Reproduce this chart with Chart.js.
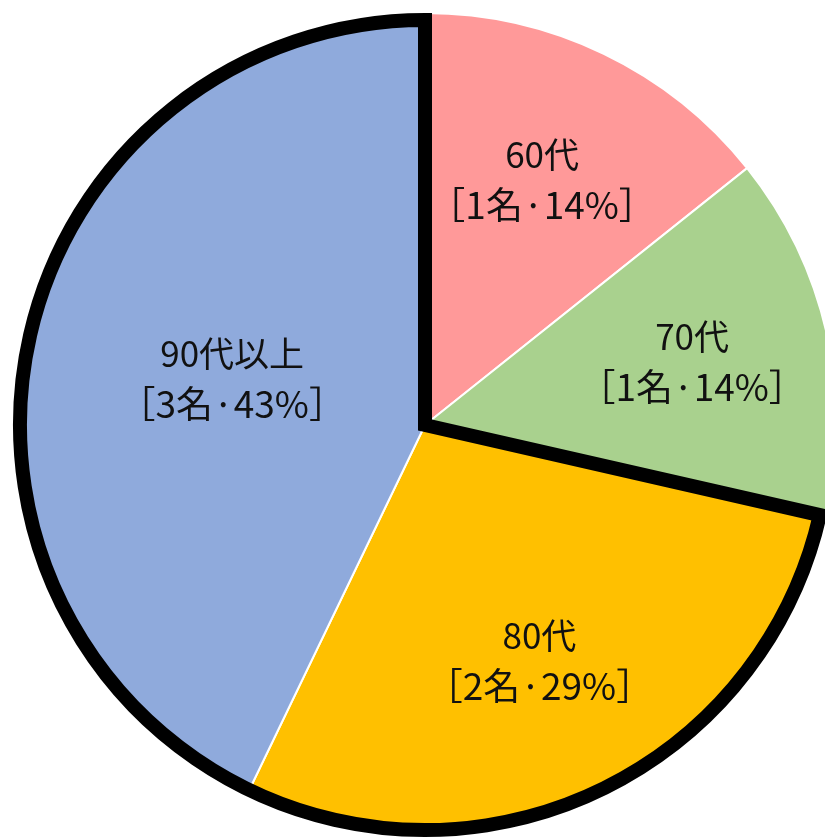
<!DOCTYPE html>
<html>
<head>
<meta charset="utf-8">
<script src="https://cdn.jsdelivr.net/npm/chart.js@4.4.1/dist/chart.umd.min.js"></script>
<style>
  html, body { margin: 0; padding: 0; background: #fff; overflow: hidden; width: 825px; height: 837px; }
  #ageChart { position: absolute; left: 12px; top: 12px; }
</style>
</head>
<body>
<canvas id="ageChart" width="826" height="826"></canvas>
<script>
// data
var categories = ['60代', '70代', '80代', '90代以上'];
var counts = [1, 1, 2, 3];
var percents = [14, 14, 29, 43];
var sliceColors = ['#FF9999', '#A9D18E', '#FFC000', '#8FAADC'];

// draws the thick black outline round the 80代 + 90代 part of the pie
var outlinePlugin = {
    id: 'outline',
    afterDatasetsDraw: function(chart) {
        var arcs = chart.getDatasetMeta(0).data;
        var first = arcs[2], last = arcs[3];
        var ctx = chart.ctx;
        var w = 14;
        ctx.save();
        ctx.beginPath();
        ctx.moveTo(first.x, first.y);
        ctx.arc(first.x, first.y, first.outerRadius - w / 2, first.startAngle, last.endAngle);
        ctx.closePath();
        ctx.lineWidth = w;
        ctx.lineJoin = 'miter';
        ctx.strokeStyle = '#000';
        ctx.stroke();
        ctx.restore();
    }
};

// two-line labels inside each slice
var labelPlugin = {
    id: 'sliceLabels',
    afterDraw: function(chart) {
        var arcs = chart.getDatasetMeta(0).data;
        var dist = [0.655, 0.665, 0.64, 0.48];
        var ctx = chart.ctx;
        ctx.save();
        ctx.fillStyle = '#111';
        ctx.textAlign = 'center';
        ctx.textBaseline = 'middle';
        arcs.forEach(function(arc, i) {
            var mid = (arc.startAngle + arc.endAngle) / 2;
            var r = arc.outerRadius * dist[i];
            var cx = arc.x + Math.cos(mid) * r;
            var cy = arc.y + Math.sin(mid) * r;
            ctx.font = '35px "Noto Sans CJK JP"';
            ctx.fillText(categories[i], cx, cy - 27);
            ctx.font = '37px "Noto Sans CJK JP"';
            ctx.fillText('［' + counts[i] + '名·' + percents[i] + '%］', cx, cy + 23);
        });
        ctx.restore();
    }
};

var ctx = document.getElementById('ageChart');
var ageChart = new Chart(ctx, {
    type: 'pie',
    data: {
        labels: categories,
        datasets: [{
            data: counts,
            backgroundColor: sliceColors,
            borderColor: '#fff',
            borderWidth: 2
        }]
    },
    options: {
        responsive: false,
        animation: false,
        layout: { padding: 0 },
        plugins: {
            legend: { display: false },
            tooltip: { enabled: false }
        }
    },
    plugins: [outlinePlugin, labelPlugin]
});
</script>
</body>
</html>
